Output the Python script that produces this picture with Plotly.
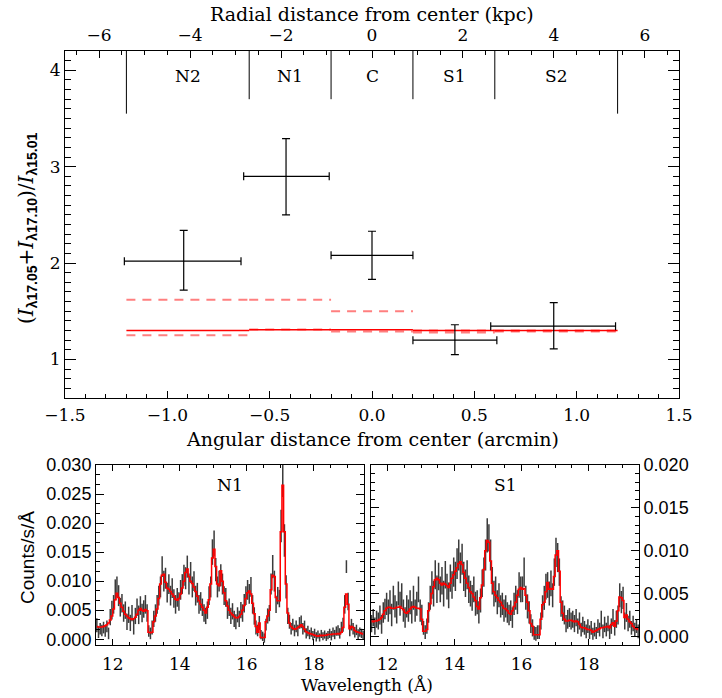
import numpy as np
import plotly.graph_objects as go

# ---------------- Top panel: line ratio vs angular distance ----------------
region_names = ["N2", "N1", "C", "S1", "S2"]
region_edges = [-1.2, -0.6, -0.2, 0.2, 0.6, 1.2]
divider_bottom = [3.55, 3.70, 3.70, 3.70, 3.70, 3.55]
ratio_x = [-0.92, -0.42, 0.0, 0.405, 0.888]
ratio_x_lo = [-1.21, -0.627, -0.2, 0.2, 0.58]
ratio_x_hi = [-0.64, -0.209, 0.2, 0.61, 1.19]
ratio_y = [2.02, 2.90, 2.08, 1.20, 1.345]
ratio_y_lo = [1.72, 2.50, 1.83, 1.05, 1.11]
ratio_y_hi = [2.34, 3.29, 2.33, 1.36, 1.59]
model_ratio = [1.30, 1.307, 1.307, 1.30, 1.30]
model_upper = [1.62, 1.62, 1.50, 1.30, 1.30]
model_lower = [1.25, 1.31, 1.29, 1.28, 1.29]
kpc_per_arcmin = 4.5

# ---------------- Bottom panels: spectra (units of 1e-4 counts/s/A) ----------------
wl_start, wl_bin, n_bins = 11.5, 0.05, 160
wavelength = wl_start + wl_bin * (np.arange(n_bins) + 0.5)
flux_unit = 1e-4

n1_model = [22, 21, 21, 21, 22, 23, 25, 28, 33, 40,
            52, 68, 79, 72, 62, 55, 48, 43, 40, 37,
            35, 34, 35, 38, 43, 50, 53, 50, 48, 51,
            49, 12, 11, 12, 30, 40, 52, 70, 95, 110,
            112, 98, 88, 86, 82, 78, 74, 69, 67, 70,
            78, 88, 100, 115, 121, 108, 100, 96, 90, 82,
            74, 66, 60, 55, 50, 45, 55, 68, 95, 140,
            155, 125, 95, 92, 118, 100, 80, 66, 57, 50,
            45, 42, 39, 37, 37, 39, 43, 50, 58, 70,
            80, 83, 78, 62, 44, 22, 12, 28, 3, 3,
            3, 30, 40, 50, 85, 110, 108, 72, 66, 66,
            185, 265, 185, 95, 45, 28, 22, 19, 17, 18,
            20, 22, 25, 22, 17, 13, 11, 10, 9, 8,
            7, 6, 5, 6, 7, 6, 7, 7, 8, 8,
            8, 9, 9, 9, 10, 9, 12, 20, 55, 78,
            60, 18, 22, 20, 15, 13, 12, 11, 10, 9]
n1_data = [24, 12, 18, 15, 20, 14, 22, 10, 38, 50,
           60, 85, 90, 75, 55, 62, 45, 50, 30, 42,
           28, 45, 22, 40, 55, 42, 58, 45, 52, 60,
           45, 14, 10, 20, 35, 45, 60, 75, 90, 125,
           100, 105, 80, 95, 75, 88, 70, 60, 72, 65,
           85, 95, 110, 105, 125, 95, 115, 90, 100, 75,
           80, 60, 65, 55, 45, 40, 50, 75, 90, 150,
           165, 120, 90, 100, 110, 95, 75, 72, 50, 55,
           40, 48, 35, 30, 42, 35, 50, 45, 62, 75,
           85, 78, 90, 60, 40, 20, 15, 28, 8, 5,
           2, 25, 40, 45, 95, 125, 100, 60, 75, 70,
           195, 280, 170, 90, 40, 30, 18, 25, 15, 22,
           15, 28, 30, 18, 22, 10, 14, 8, 12, 6,
           10, 4, 8, 3, 9, 5, 8, 4, 7, 10,
           6, 12, 8, 14, 15, 10, 20, 25, 60, 125,
           65, 15, 25, 18, 12, 16, 8, 12, 10, 7]
n1_err = [12, 10, 10, 10, 10, 10, 10, 10, 14, 16,
          16, 18, 18, 18, 16, 16, 15, 15, 14, 14,
          14, 14, 14, 14, 15, 16, 16, 16, 15, 16,
          15, 10, 10, 12, 14, 15, 16, 17, 18, 18,
          18, 18, 17, 17, 17, 17, 16, 16, 16, 16,
          17, 17, 18, 19, 19, 18, 18, 18, 17, 17,
          17, 16, 16, 15, 15, 14, 15, 16, 18, 22,
          22, 20, 18, 18, 19, 18, 16, 16, 15, 15,
          14, 14, 14, 13, 13, 14, 14, 15, 16, 16,
          17, 17, 17, 16, 15, 12, 10, 12, 8, 8,
          8, 10, 13, 14, 18, 20, 18, 15, 15, 15,
          28, 35, 28, 20, 14, 12, 10, 10, 10, 10,
          10, 10, 11, 10, 10, 9, 9, 8, 8, 8,
          8, 8, 7, 7, 7, 7, 7, 7, 7, 8,
          8, 8, 8, 8, 9, 9, 10, 12, 16, 11,
          15, 10, 10, 10, 9, 9, 9, 8, 8, 8]

s1_model = [18, 17, 18, 18, 19, 20, 22, 26, 30, 33,
            34, 34, 33, 33, 33, 34, 34, 35, 33, 31,
            28, 27, 29, 32, 34, 35, 34, 33, 33, 32,
            20, 6, 6, 8, 30, 38, 50, 58, 66, 68,
            66, 62, 60, 62, 61, 59, 57, 62, 68, 72,
            76, 80, 85, 87, 84, 75, 68, 62, 57, 52,
            50, 46, 42, 35, 32, 45, 60, 78, 100, 112,
            110, 88, 62, 52, 48, 45, 42, 40, 36, 33,
            32, 30, 27, 26, 30, 35, 40, 48, 55, 57,
            55, 56, 48, 40, 30, 15, 12, 2, 2, 2,
            2, 20, 37, 40, 52, 63, 55, 56, 55, 70,
            95, 100, 76, 40, 27, 20, 18, 18, 19, 19,
            18, 17, 18, 17, 14, 11, 10, 10, 9, 8,
            8, 7, 5, 6, 7, 8, 9, 10, 10, 11,
            11, 12, 10, 14, 16, 12, 18, 30, 46, 45,
            42, 22, 25, 20, 17, 15, 12, 10, 9, 8]
s1_data = [15, 22, 12, 20, 18, 25, 14, 28, 32, 38,
           30, 40, 25, 45, 35, 28, 50, 38, 48, 30,
           22, 35, 30, 40, 28, 45, 30, 38, 55, 30,
           25, 10, 5, 12, 28, 45, 60, 50, 72, 55,
           70, 55, 65, 50, 72, 58, 48, 68, 60, 75,
           70, 85, 95, 80, 90, 70, 62, 72, 55, 50,
           45, 55, 38, 40, 28, 42, 62, 75, 95, 118,
           115, 95, 65, 50, 55, 40, 48, 35, 38, 30,
           35, 28, 25, 30, 22, 38, 45, 40, 60, 55,
           55, 75, 45, 35, 28, 15, 10, 4, 3, 5,
           5, 18, 35, 45, 58, 60, 50, 62, 48, 75,
           98, 92, 75, 35, 30, 25, 15, 20, 22, 18,
           20, 15, 22, 12, 18, 8, 14, 10, 6, 12,
           5, 10, 3, 8, 4, 12, 8, 20, 6, 14,
           8, 15, 5, 12, 22, 10, 20, 25, 48, 40,
           45, 18, 28, 15, 20, 10, 15, 8, 12, 6]
s1_err = [10, 10, 10, 10, 10, 11, 11, 12, 12, 13,
          13, 14, 13, 14, 13, 13, 14, 14, 14, 13,
          12, 13, 13, 14, 13, 14, 13, 14, 15, 13,
          12, 8, 8, 9, 12, 14, 16, 15, 17, 16,
          16, 15, 16, 15, 16, 15, 15, 16, 16, 17,
          17, 18, 18, 18, 18, 17, 16, 17, 16, 15,
          15, 15, 14, 14, 13, 14, 16, 17, 18, 20,
          16, 18, 16, 15, 15, 14, 14, 13, 13, 13,
          13, 12, 12, 12, 12, 13, 14, 14, 15, 15,
          15, 17, 14, 14, 13, 11, 10, 8, 8, 8,
          8, 10, 13, 14, 15, 15, 14, 15, 14, 16,
          17, 17, 16, 12, 12, 11, 10, 11, 11, 10,
          10, 10, 10, 9, 10, 8, 9, 8, 8, 8,
          8, 8, 7, 8, 7, 8, 8, 10, 8, 9,
          8, 9, 8, 9, 10, 9, 10, 11, 14, 13,
          13, 10, 11, 9, 10, 8, 9, 8, 8, 8]

panel_labels = ["N1", "S1"]

# ---------------- figure ----------------
W, H = 722, 698
SERIF = "DejaVu Serif"
SANS = "Liberation Sans"
fig = go.Figure()


def steps(levels):
    xs, ys = [], []
    for i, v in enumerate(levels):
        xs += [region_edges[i], region_edges[i + 1], None]
        ys += [v, v, None]
    return xs, ys


for lev in (model_upper, model_lower):
    sx, sy = steps(lev)
    fig.add_trace(go.Scatter(x=sx, y=sy, mode="lines", xaxis="x", yaxis="y",
                             line=dict(color="rgba(255,0,0,0.5)", width=2, dash="9px,7px"),
                             showlegend=False, hoverinfo="skip"))
sx, sy = steps(model_ratio)
fig.add_trace(go.Scatter(x=sx, y=sy, mode="lines", xaxis="x", yaxis="y",
                         line=dict(color="#ff0000", width=1.5), showlegend=False))

fig.add_trace(go.Scatter(
    x=ratio_x, y=ratio_y, mode="markers", xaxis="x", yaxis="y",
    marker=dict(size=1, color="black"),
    error_x=dict(type="data", symmetric=False,
                 array=[h - c for h, c in zip(ratio_x_hi, ratio_x)],
                 arrayminus=[c - l for c, l in zip(ratio_x, ratio_x_lo)],
                 color="black", thickness=1.2, width=4),
    error_y=dict(type="data", symmetric=False,
                 array=[h - c for h, c in zip(ratio_y_hi, ratio_y)],
                 arrayminus=[c - l for c, l in zip(ratio_y, ratio_y_lo)],
                 color="black", thickness=1.2, width=4),
    showlegend=False))
# same points placed on the kpc axis (transparent) so that the top axis is drawn
fig.add_trace(go.Scatter(
    x=[v * kpc_per_arcmin for v in ratio_x], y=ratio_y, mode="markers", xaxis="x2", yaxis="y",
    marker=dict(size=1, color="rgba(0,0,0,0)"), showlegend=False, hoverinfo="skip"))

# spectra
for data, err, model, xa, ya in ((n1_data, n1_err, n1_model, "x3", "y3"),
                                 (s1_data, s1_err, s1_model, "x4", "y4")):
    fig.add_trace(go.Scatter(
        x=wavelength, y=np.array(data) * flux_unit, mode="markers", xaxis=xa, yaxis=ya,
        marker=dict(size=2, color="rgba(0,0,0,0)"),
        error_y=dict(type="data", array=np.array(err) * flux_unit,
                     color="rgba(25,25,25,0.85)", thickness=1.5, width=0),
        showlegend=False))
    fig.add_trace(go.Scatter(
        x=wavelength, y=np.array(model) * flux_unit, mode="lines", xaxis=xa, yaxis=ya,
        line=dict(color="#ff0000", width=1.5, shape="hvh"), showlegend=False))

# region dividers and labels
shapes = []
for e, yb in zip(region_edges, divider_bottom):
    shapes.append(dict(type="line", xref="x", yref="y", x0=e, x1=e, y0=yb, y1=4.2,
                       line=dict(color="black", width=1)))
annotations = []
for i, name in enumerate(region_names):
    annotations.append(dict(x=(region_edges[i] + region_edges[i + 1]) / 2, y=3.94,
                            xref="x", yref="y", text=name, showarrow=False,
                            xanchor="center", yanchor="middle",
                            font=dict(family=SERIF, size=17, color="black")))


def px(xp):
    return xp / W


def py(yp):
    return (H - yp) / H


SUB = '<sub><span style="font-family:Liberation Sans;font-weight:bold">{}</span></sub>'
ratio_title = ("(<i>I</i>" + SUB.format("λ17.05") + "+<i>I</i>" + SUB.format("λ17.10")
               + ")/<i>I</i>" + SUB.format("λ15.01"))

annotations += [
    dict(x=px(372), y=py(14), text="Radial distance from center (kpc)",
         font=dict(family=SERIF, size=19, color="black")),
    dict(x=px(372), y=py(439), text="Angular distance from center (arcmin)",
         font=dict(family=SERIF, size=19, color="black")),
    dict(x=px(27), y=py(228), textangle=-90, text=ratio_title,
         font=dict(family=SERIF, size=20, color="black")),
    dict(x=px(27), y=py(557), textangle=-90, text="Counts/s/Å",
         font=dict(family=SANS, size=19, color="black")),
    dict(x=px(367), y=py(685), text="Wavelength (Å)",
         font=dict(family=SERIF, size=17, color="black")),
]
for a in annotations[len(region_names):]:
    a.update(xref="paper", yref="paper", showarrow=False, xanchor="center", yanchor="middle")
for lab, xd in zip(panel_labels, ("x3 domain", "x4 domain")):
    annotations.append(dict(x=0.5, y=0.89, xref=xd, yref=xd.replace("x", "y"), text=lab,
                            showarrow=False, xanchor="center", yanchor="middle",
                            font=dict(family=SERIF, size=17, color="black")))

axis_common = dict(showline=True, linecolor="black", linewidth=1, ticks="inside",
                   tickcolor="black", showgrid=False, zeroline=False, automargin=False)
xrange_top = [-1.5, 1.5]

fig.update_layout(
    width=W, height=H, margin=dict(l=0, r=0, t=0, b=0, autoexpand=False), autosize=False,
    plot_bgcolor="white", paper_bgcolor="white",
    font=dict(family=SERIF, size=16, color="black"),
    xaxis=dict(domain=[px(65), px(679)], anchor="y", range=xrange_top, dtick=0.5, tickformat=".1f",
               ticklen=7, ticklabelstandoff=2,
               minor=dict(dtick=0.1, ticklen=4, ticks="inside", tickcolor="black"),
               tickfont=dict(family=SERIF, size=17), **axis_common),
    xaxis2=dict(domain=[px(65), px(679)], anchor="y", overlaying="x", side="top",
                range=[xrange_top[0] * kpc_per_arcmin, xrange_top[1] * kpc_per_arcmin],
                dtick=2, ticklen=7, ticklabelstandoff=2,
                minor=dict(dtick=0.5, ticklen=4, ticks="inside", tickcolor="black"),
                tickfont=dict(family=SERIF, size=17), **axis_common),
    yaxis=dict(domain=[py(398), py(51)], anchor="x", range=[0.6, 4.2], dtick=1, ticklen=11,
               mirror="ticks", minor=dict(dtick=0.1, ticklen=6, ticks="inside", tickcolor="black"),
               tickfont=dict(family=SERIF, size=17), **axis_common),
    xaxis3=dict(domain=[px(96), px(364)], anchor="y3", range=[11.5, 19.5], dtick=2, ticklen=6,
                mirror="ticks", ticklabelstandoff=4,
                minor=dict(dtick=0.5, ticklen=3, ticks="inside", tickcolor="black"),
                tickfont=dict(family=SERIF, size=17), **axis_common),
    yaxis3=dict(domain=[py(645), py(465)], anchor="x3", range=[-0.001, 0.030], dtick=0.005,
                tickformat=".3f", ticklen=8, mirror="ticks",
                minor=dict(dtick=0.005 / 3, ticklen=4, ticks="inside", tickcolor="black"),
                tickfont=dict(family=SANS, size=18), **axis_common),
    xaxis4=dict(domain=[px(370.7), px(639)], anchor="y4", range=[11.5, 19.5], dtick=2, ticklen=6,
                mirror="ticks", ticklabelstandoff=4,
                minor=dict(dtick=0.5, ticklen=3, ticks="inside", tickcolor="black"),
                tickfont=dict(family=SERIF, size=17), **axis_common),
    yaxis4=dict(domain=[py(645), py(465)], anchor="x4", side="right", range=[-0.001, 0.020],
                dtick=0.005, tickformat=".3f", ticklen=8, mirror="ticks",
                minor=dict(dtick=0.001, ticklen=4, ticks="inside", tickcolor="black"),
                tickfont=dict(family=SANS, size=18), **axis_common),
    shapes=shapes, annotations=annotations,
)

fig.write_html("out.html", config={"displayModeBar": False},
               post_script="document.body.style.margin='0px';")
